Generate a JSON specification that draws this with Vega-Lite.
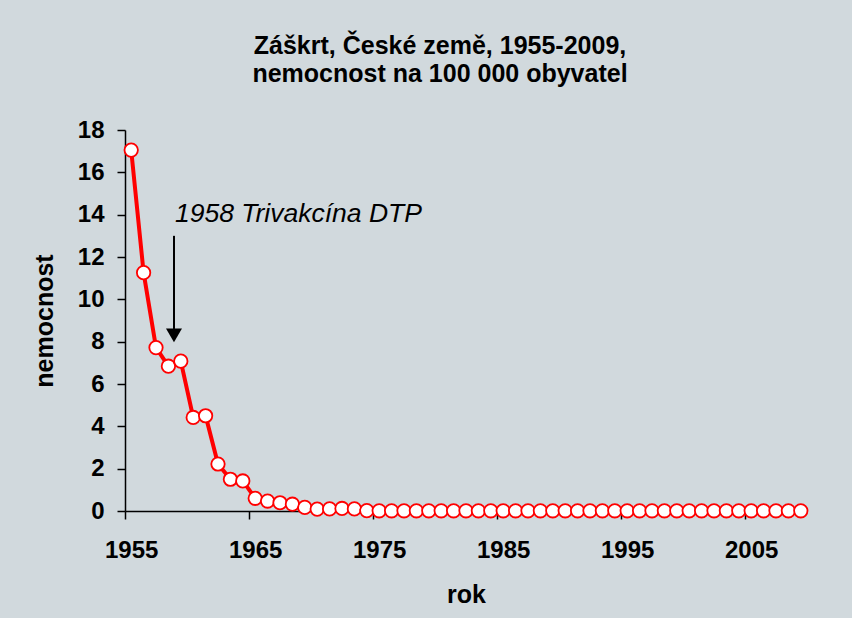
{
  "$schema": "https://vega.github.io/schema/vega-lite/v6.json",
  "width": 682,
  "height": 381,
  "autosize": {"type": "none"},
  "padding": {"left": 125, "top": 130, "right": 45, "bottom": 107},
  "background": "#d1d9dd",
  "config": {
    "view": {"stroke": null},
    "font": "Liberation Sans",
    "axis": {
      "grid": false,
      "domainColor": "#000000",
      "domainWidth": 1.5,
      "tickColor": "#000000",
      "tickWidth": 1.5,
      "tickSize": 8,
      "labelFont": "Liberation Sans",
      "labelFontWeight": "bold",
      "labelFontSize": 24,
      "labelColor": "#000000",
      "labelFlush": false,
      "titleFont": "Liberation Sans",
      "titleFontWeight": "bold",
      "titleFontSize": 25,
      "titleColor": "#000000"
    }
  },
  "title": {
    "text": ["Záškrt, České země, 1955-2009,", "nemocnost na 100 000 obyvatel"],
    "font": "Liberation Sans",
    "fontSize": 25,
    "fontWeight": "bold",
    "color": "#000000",
    "lineHeight": 28,
    "offset": 31,
    "dx": -26,
    "anchor": "middle"
  },
  "datasets": {
    "main": [
      {"rok": 1955, "nemocnost": 17.05},
      {"rok": 1956, "nemocnost": 11.26},
      {"rok": 1957, "nemocnost": 7.72},
      {"rok": 1958, "nemocnost": 6.84},
      {"rok": 1959, "nemocnost": 7.08},
      {"rok": 1960, "nemocnost": 4.42},
      {"rok": 1961, "nemocnost": 4.5},
      {"rok": 1962, "nemocnost": 2.22},
      {"rok": 1963, "nemocnost": 1.5},
      {"rok": 1964, "nemocnost": 1.42},
      {"rok": 1965, "nemocnost": 0.6},
      {"rok": 1966, "nemocnost": 0.47},
      {"rok": 1967, "nemocnost": 0.39},
      {"rok": 1968, "nemocnost": 0.32},
      {"rok": 1969, "nemocnost": 0.17},
      {"rok": 1970, "nemocnost": 0.09},
      {"rok": 1971, "nemocnost": 0.1},
      {"rok": 1972, "nemocnost": 0.12},
      {"rok": 1973, "nemocnost": 0.1},
      {"rok": 1974, "nemocnost": 0.02},
      {"rok": 1975, "nemocnost": 0.01},
      {"rok": 1976, "nemocnost": 0.01},
      {"rok": 1977, "nemocnost": 0.01},
      {"rok": 1978, "nemocnost": 0.01},
      {"rok": 1979, "nemocnost": 0.01},
      {"rok": 1980, "nemocnost": 0.01},
      {"rok": 1981, "nemocnost": 0.01},
      {"rok": 1982, "nemocnost": 0.01},
      {"rok": 1983, "nemocnost": 0.01},
      {"rok": 1984, "nemocnost": 0.01},
      {"rok": 1985, "nemocnost": 0.01},
      {"rok": 1986, "nemocnost": 0.01},
      {"rok": 1987, "nemocnost": 0.01},
      {"rok": 1988, "nemocnost": 0.01},
      {"rok": 1989, "nemocnost": 0.01},
      {"rok": 1990, "nemocnost": 0.01},
      {"rok": 1991, "nemocnost": 0.01},
      {"rok": 1992, "nemocnost": 0.01},
      {"rok": 1993, "nemocnost": 0.01},
      {"rok": 1994, "nemocnost": 0.01},
      {"rok": 1995, "nemocnost": 0.01},
      {"rok": 1996, "nemocnost": 0.01},
      {"rok": 1997, "nemocnost": 0.01},
      {"rok": 1998, "nemocnost": 0.01},
      {"rok": 1999, "nemocnost": 0.01},
      {"rok": 2000, "nemocnost": 0.01},
      {"rok": 2001, "nemocnost": 0.01},
      {"rok": 2002, "nemocnost": 0.01},
      {"rok": 2003, "nemocnost": 0.01},
      {"rok": 2004, "nemocnost": 0.01},
      {"rok": 2005, "nemocnost": 0.01},
      {"rok": 2006, "nemocnost": 0.01},
      {"rok": 2007, "nemocnost": 0.01},
      {"rok": 2008, "nemocnost": 0.01},
      {"rok": 2009, "nemocnost": 0.01}
    ],
    "arrow": [
      {"rok": 1958.45, "top": 13.0, "bottom": 8.6}
    ],
    "arrowhead": [
      {"rok": 1958.45, "y": 8.3}
    ],
    "label": [
      {"rok": 1958.53, "y": 13.65, "text": "1958 Trivakcína DTP"}
    ]
  },
  "layer": [
    {
      "data": {"name": "main"},
      "mark": {"type": "line", "color": "#ff0000", "strokeWidth": 4},
      "encoding": {
        "x": {
          "field": "rok",
          "type": "quantitative",
          "scale": {"domain": [1954.5, 2009.5], "nice": false, "zero": false},
          "axis": {
            "title": "rok",
            "values": [1954.5, 1964.5, 1974.5, 1984.5, 1994.5, 2004.5],
            "labelExpr": "toString(datum.value + 0.5)",
            "labelOffset": 6.2,
            "labelPadding": 19,
            "titlePadding": 20
          }
        },
        "y": {
          "field": "nemocnost",
          "type": "quantitative",
          "scale": {"domain": [0, 18], "nice": false},
          "axis": {
            "title": "nemocnost",
            "values": [0, 2, 4, 6, 8, 10, 12, 14, 16, 18],
            "labelPadding": 13,
            "titlePadding": 20
          }
        }
      }
    },
    {
      "data": {"name": "main"},
      "mark": {"type": "point", "shape": "circle", "filled": true, "fill": "#ffffff", "stroke": "#ff0000", "strokeWidth": 1.8, "size": 180, "opacity": 1},
      "encoding": {
        "x": {"field": "rok", "type": "quantitative"},
        "y": {"field": "nemocnost", "type": "quantitative"}
      }
    },
    {
      "data": {"name": "arrow"},
      "mark": {"type": "rule", "color": "#000000", "strokeWidth": 2},
      "encoding": {
        "x": {"field": "rok", "type": "quantitative"},
        "y": {"field": "top", "type": "quantitative"},
        "y2": {"field": "bottom"}
      }
    },
    {
      "data": {"name": "arrowhead"},
      "mark": {"type": "point", "shape": "triangle-down", "filled": true, "fill": "#000000", "strokeWidth": 0, "size": 256, "opacity": 1},
      "encoding": {
        "x": {"field": "rok", "type": "quantitative"},
        "y": {"field": "y", "type": "quantitative"}
      }
    },
    {
      "data": {"name": "label"},
      "mark": {"type": "text", "align": "left", "baseline": "alphabetic", "font": "Liberation Sans", "fontStyle": "italic", "fontSize": 26.5, "color": "#000000"},
      "encoding": {
        "x": {"field": "rok", "type": "quantitative"},
        "y": {"field": "y", "type": "quantitative"},
        "text": {"field": "text"}
      }
    }
  ]
}
